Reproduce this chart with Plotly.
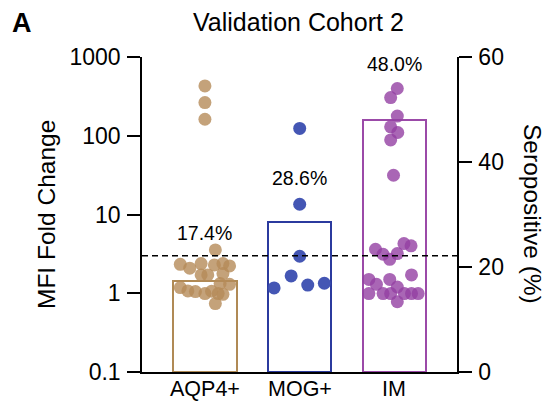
import plotly.graph_objects as go

categories = ["AQP4+", "MOG+", "IM"]
seropositive_pct = [17.4, 28.6, 48.0]
threshold = 3.0

aqp4_values = [429, 264, 162, 3.55,
               2.33, 2.08, 2.38, 2.29, 2.38, 2.22,
               1.71, 1.71, 1.78, 1.30, 1.33,
               1.18, 1.07, 1.05, 0.99, 0.99, 0.97, 1.06, 0.74]
aqp4_offsets = [0.0, 0.0, 0.0, 0.11,
                -0.26, -0.16, -0.04, 0.10, 0.19, 0.26,
                -0.04, 0.03, 0.19, 0.26, 0.16,
                -0.26, -0.18, -0.10, 0.0, 0.14, 0.19, 0.07, 0.11]

mog_values = [124, 13.5, 2.95, 1.66, 1.17, 1.27, 1.34]
mog_offsets = [0.0, 0.0, 0.0, -0.09, -0.27, 0.085, 0.26]

im_values = [398, 305, 178, 130, 110, 88.5, 31.5,
             4.27, 4.0, 3.62, 3.13, 3.19,
             2.70, 1.50, 1.30, 1.50, 1.71, 1.20,
             0.99, 0.99, 0.99, 0.99, 0.99, 0.99, 0.78]
im_offsets = [0.03, -0.04, 0.03, -0.04, 0.035, -0.04, -0.01,
              0.10, 0.175, -0.20, -0.12, 0.03,
              -0.05, -0.27, -0.19, -0.05, 0.18, 0.03,
              -0.27, -0.12, -0.04, 0.105, 0.18, 0.25, 0.03]

marker_colors = ["#B58B59", "#3A4DB0", "#9440A3"]
marker_opac = [0.8, 0.95, 0.8]
bar_colors = ["#B08A55", "#2B3A9E", "#9B4AA8"]
label_pos = [26.5, 37.0, 58.7]

FONT = "Liberation Sans, Arial, sans-serif"

W, H = 548, 403
L, R, T, B = 142, 91, 57, 31
pw, ph = W - L - R, H - T - B
def px(x): return (x - L) / pw
def py(y): return (H - B - y) / ph

fig = go.Figure()

# hollow bars on the right (percentage) axis
fig.add_trace(go.Bar(
    x=[0, 1, 2], y=seropositive_pct, width=0.67,
    marker=dict(color="rgba(0,0,0,0)", line=dict(color=bar_colors, width=2)),
    yaxis="y2", xaxis="x", showlegend=False, hoverinfo="skip"))

groups = [(aqp4_values, aqp4_offsets), (mog_values, mog_offsets), (im_values, im_offsets)]
for i, (vals, offs) in enumerate(groups):
    fig.add_trace(go.Scatter(
        x=[i + o for o in offs], y=vals, mode="markers",
        marker=dict(size=13, color=marker_colors[i], opacity=marker_opac[i], line=dict(width=0)),
        yaxis="y", xaxis="x", showlegend=False))

# threshold line
fig.add_shape(type="line", xref="paper", yref="y", x0=0, x1=1, y0=threshold, y1=threshold,
              line=dict(color="black", width=1.5, dash="6px,4px"))

for i, p in enumerate(seropositive_pct):
    fig.add_annotation(x=i, y=label_pos[i], xref="x", yref="y2", text=f"{p:.1f}%",
                       xanchor="center", yanchor="middle",
                       showarrow=False, font=dict(size=19.5, color="black", family=FONT))

# category labels
for i, c in enumerate(categories):
    fig.add_annotation(x=i, y=py(389), xref="x", yref="paper", text=c,
                       xanchor="center", yanchor="middle",
                       showarrow=False, font=dict(size=21.5, color="black", family=FONT))

def text_at(x, y, text, size, angle=0):
    fig.add_annotation(x=px(x), y=py(y), xref="paper", yref="paper", text=text,
                       textangle=angle, xanchor="center", yanchor="middle",
                       showarrow=False, font=dict(size=size, color="black", family=FONT))

text_at(298, 22, "Validation Cohort 2", 25)
text_at(22, 23, "<b>A</b>", 27)
text_at(46, 214, "MFI Fold Change", 24.5, -90)
text_at(533, 214, "Seropositive (%)", 24.5, 90)

fig.update_layout(
    width=W, height=H,
    margin=dict(l=L, r=R, t=T, b=B, pad=0),
    paper_bgcolor="white", plot_bgcolor="white",
    font=dict(family=FONT, size=20, color="black"),
    bargap=0,
    xaxis=dict(range=[-0.664, 2.66], showticklabels=False,
               showline=True, linecolor="black", linewidth=1.5, ticks="",
               showgrid=False, zeroline=False, automargin=False),
    yaxis=dict(type="log", range=[-1, 3], overlaying="y2", side="left",
               tickvals=[0.1, 1, 10, 100, 1000], ticktext=["0.1", "1", "10", "100", "1000"],
               ticks="outside", ticklen=13, tickwidth=1.5, tickcolor="black",
               showline=True, linecolor="black", linewidth=1.5,
               showgrid=False, zeroline=False, tickfont=dict(size=23),
               ticklabelstandoff=2, automargin=False),
    yaxis2=dict(range=[0, 60], side="right", anchor="x",
                tickvals=[0, 20, 40, 60], ticks="outside", ticklen=13, tickwidth=1.5,
                tickcolor="black", showline=True, linecolor="black", linewidth=1.5,
                showgrid=False, zeroline=False, tickfont=dict(size=23),
                ticklabelstandoff=2, automargin=False),
)

fig.write_html("out.html", config={"displayModeBar": False},
               post_script="document.body.style.margin='0';document.body.style.overflow='hidden';")
